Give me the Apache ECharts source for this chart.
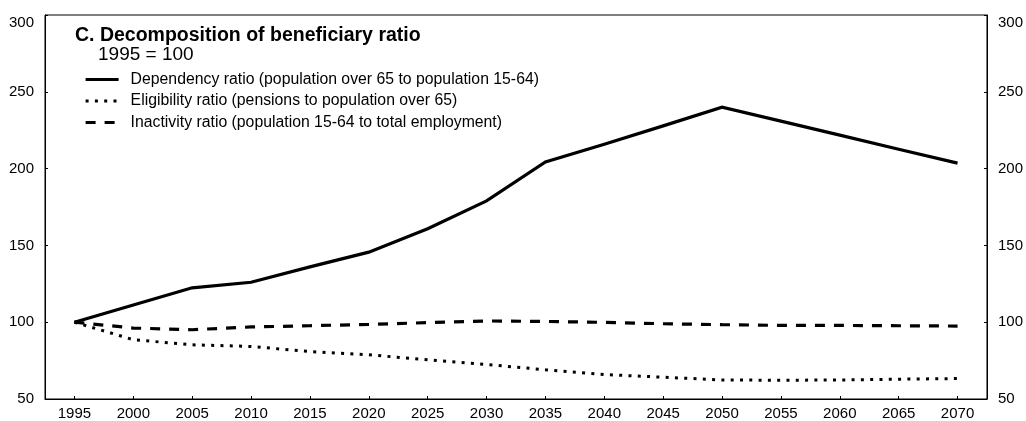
<!DOCTYPE html>
<html>
<head>
<meta charset="utf-8">
<script src="https://cdn.jsdelivr.net/npm/echarts@6/dist/echarts.min.js"></script>
<style>
html,body{margin:0;padding:0;background:#fff;}
#chart{width:1026px;height:421px;}
</style>
</head>
<body>
<div id="chart"></div>
<script>
const years = ['1995','2000','2005','2010','2015','2020','2025','2030','2035','2040','2045','2050','2055','2060','2065','2070'];
const dependency = [100, 111.2, 122.4, 126, 136, 145.6, 160.9, 179, 204.4, 215.8, 227.8, 240, 230.9, 221.8, 212.6, 203.6];
const eligibility = [100, 88.6, 85.3, 84.2, 80.9, 78.8, 75.5, 72.5, 69, 65.9, 64.2, 62.4, 62.2, 62.4, 62.9, 63.3];
const inactivity = [100, 96.2, 95.1, 96.9, 97.7, 98.6, 99.7, 100.8, 100.5, 99.9, 99.0, 98.4, 97.9, 97.9, 97.7, 97.5];
const seriesNames = [
  'Dependency ratio (population over 65 to population 15-64)',
  'Eligibility ratio (pensions to population over 65)',
  'Inactivity ratio (population 15-64 to total employment)'
];
const titleText = 'C. Decomposition of beneficiary ratio';
const subtitleText = '1995 = 100';

const chart = echarts.init(document.getElementById('chart'), null, {renderer: 'canvas'});
const font = "'Liberation Sans', Arial, sans-serif";
function yAxisDef(pos) {
  return {
    type: 'value', position: pos, min: 50, max: 300, interval: 50,
    axisLine: {show: true, lineStyle: {color: '#000', width: 1}},
    axisTick: {show: true, inside: true, length: 3, lineStyle: {color: '#000'}},
    splitLine: {show: false},
    axisLabel: {
      color: '#000', fontSize: 15, fontFamily: font, margin: 11,
      formatter: function (v) { return v === 300 ? '{t|' + v + '}' : String(v); },
      rich: {t: {fontSize: 15, fontFamily: font, color: '#000', padding: [16, 0, 0, 0]}}
    }
  };
}
const option = {
  animation: false,
  backgroundColor: '#fff',
  textStyle: {fontFamily: font},
  title: [
    {text: titleText, left: 75, top: 26, padding: 0,
     textStyle: {fontSize: 19.5, fontWeight: 'bold', color: '#000', fontFamily: font, lineHeight: 20}},
    {text: subtitleText, left: 98, top: 45, padding: 0,
     textStyle: {fontSize: 19, fontWeight: 'normal', color: '#000', fontFamily: font, lineHeight: 20}}
  ],
  legend: {
    orient: 'vertical', left: 84, top: 71.5, padding: 0,
    itemWidth: 33, itemHeight: 16, itemGap: 5.5,
    data: seriesNames,
    itemStyle: {opacity: 0},
    lineStyle: {width: 3.2},
    textStyle: {fontSize: 15.8, lineHeight: 16, color: '#000', fontFamily: font, padding: [0, 0, 0, 7]},
    inactiveColor: '#000'
  },
  grid: {left: 45, right: 36, top: 15, bottom: 22, show: true, borderColor: '#000', borderWidth: 1, containLabel: false},
  xAxis: {
    type: 'category', data: years, boundaryGap: true,
    axisLine: {show: true, lineStyle: {color: '#000', width: 1}},
    axisTick: {show: true, inside: true, length: 3, alignWithLabel: true, lineStyle: {color: '#000'}},
    axisLabel: {color: '#000', fontSize: 15, fontFamily: font, margin: 7, interval: 0}
  },
  yAxis: [yAxisDef('left'), yAxisDef('right')],
  series: [
    {name: seriesNames[0], type: 'line', data: dependency, showSymbol: false, symbol: 'none',
     lineStyle: {color: '#000', width: 3.2, type: 'solid', join: 'miter'}, itemStyle: {color: '#000'}},
    {name: seriesNames[1], type: 'line', data: eligibility, showSymbol: false, symbol: 'none',
     lineStyle: {color: '#000', width: 3, type: [3, 6.3], cap: 'butt'}, itemStyle: {color: '#000'}},
    {name: seriesNames[2], type: 'line', data: inactivity, showSymbol: false, symbol: 'none',
     lineStyle: {color: '#000', width: 3.2, type: [10, 9], cap: 'butt'}, itemStyle: {color: '#000'}}
  ]
};
chart.setOption(option);
</script>
</body>
</html>
